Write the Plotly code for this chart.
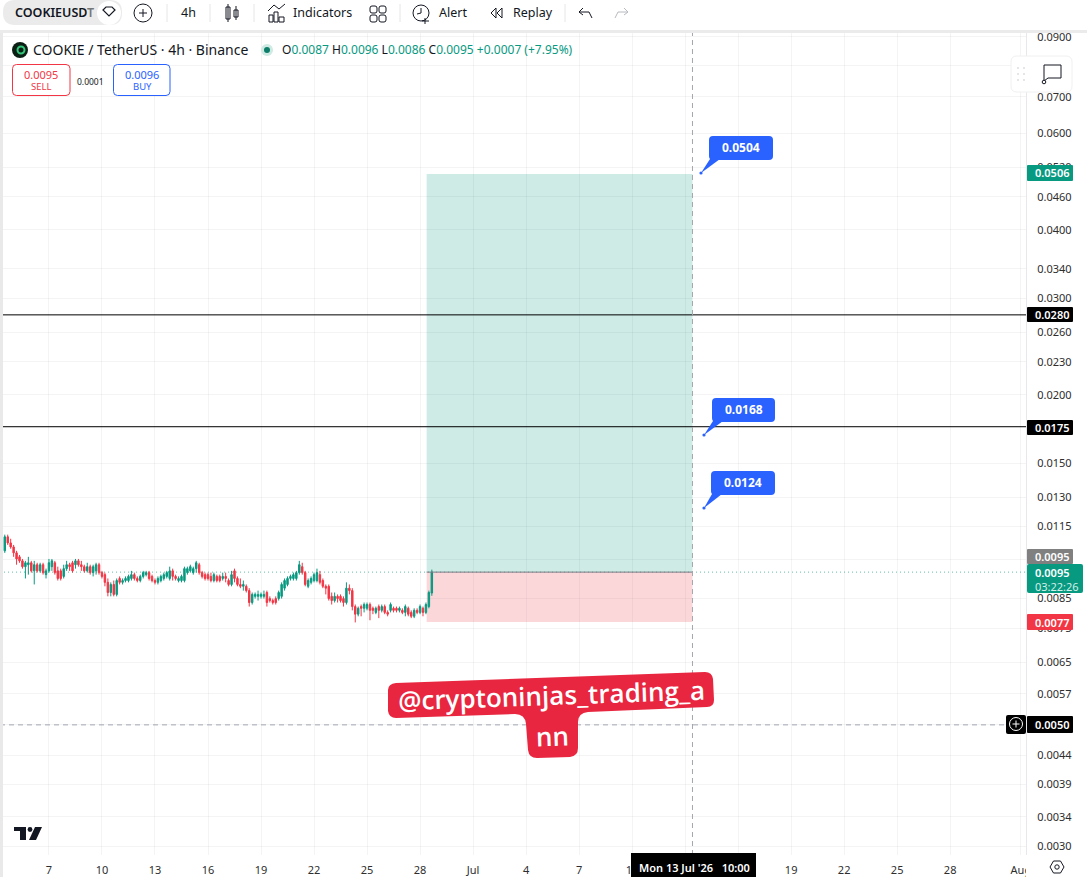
import pandas as pd
import plotly.graph_objects as go

W, H = 1087, 877
# 4h candles, prices in units of 0.00001 USDT
opens_e5 = [1039,1102,1074,1056,1030,1013,996,972,980,988,
 955,980,955,980,940,955,972,988,955,955,
 933,964,980,988,980,996,980,972,955,972,
 948,955,980,948,940,910,872,902,865,925,
 910,917,917,925,940,925,917,933,940,948,
 933,917,910,917,925,933,925,955,933,917,
 917,917,948,955,948,964,980,948,940,940,
 933,917,933,933,925,933,917,902,955,925,
 902,895,895,879,836,858,858,858,858,872,
 850,843,850,850,858,888,902,925,925,925,
 948,972,948,895,910,917,917,940,917,895,
 895,858,843,858,858,850,836,888,879,822,
 796,822,816,816,829,816,802,822,809,822,
 802,809,816,816,809,809,802,816,802,789,
 809,802,816,802,822,870]
closes_e5 = [1102,1074,1056,1030,1004,996,972,988,988,955,
 980,955,980,948,955,988,996,948,925,925,
 964,980,972,955,996,980,972,955,972,948,
 972,980,948,933,910,872,902,865,917,910,
 917,925,933,940,925,917,933,948,948,925,
 917,910,925,933,940,948,955,933,925,925,
 933,964,964,972,964,988,948,933,925,925,
 917,940,917,917,933,925,902,940,925,902,
 895,902,879,836,865,865,865,865,865,836,
 843,836,836,872,902,917,925,933,940,948,
 980,948,902,917,925,940,948,910,895,888,
 850,843,858,850,843,836,888,879,822,796,
 816,816,829,829,809,809,816,809,822,802,
 796,829,809,809,816,802,822,796,789,809,
 802,822,802,829,872,950]
highs_e5 = [1112,1112,1093,1065,1039,1021,1004,996,1013,996,
 996,988,988,988,964,1004,1004,996,972,964,
 980,996,988,996,1004,1004,996,980,988,980,
 980,988,988,955,948,925,910,917,925,933,
 925,933,940,955,948,933,940,955,955,955,
 940,925,933,940,948,955,972,964,940,933,
 940,972,972,980,972,996,988,955,948,948,
 948,948,940,940,948,948,925,955,964,933,
 925,917,902,888,872,872,879,872,879,879,
 858,850,858,879,910,925,933,940,948,955,
 996,988,955,925,933,948,964,955,925,902,
 902,872,872,865,865,858,910,902,888,829,
 822,829,836,836,836,822,822,829,829,829,
 809,836,822,822,822,816,829,822,809,816,
 816,829,822,836,879,960]
lows_e5 = [1030,1065,1048,1013,980,988,964,925,940,948,
 902,948,948,940,925,948,955,940,917,917,
 925,955,955,948,964,972,955,948,948,940,
 933,940,940,925,895,858,858,858,858,902,
 902,910,910,917,917,910,910,925,933,917,
 910,902,902,910,917,925,917,917,917,910,
 910,910,940,948,940,948,940,925,917,917,
 910,910,910,910,917,910,895,895,910,895,
 888,879,872,822,829,850,843,850,850,822,
 836,829,829,843,850,879,895,917,917,917,
 940,940,895,888,902,910,910,902,888,865,
 843,829,836,836,836,822,829,865,809,769,
 789,789,802,809,776,796,796,783,802,796,
 789,802,802,802,802,796,789,789,783,783,
 796,796,789,796,816,860]

first_candle = "2026-06-04 12:00"
date_ticks = ["2026-06-07","2026-06-10","2026-06-13","2026-06-16","2026-06-19","2026-06-22","2026-06-25","2026-06-28",
              "2026-07-01","2026-07-04","2026-07-07","2026-07-10","2026-07-13","2026-07-16","2026-07-19","2026-07-22","2026-07-25","2026-07-28","2026-08-01"]
date_labels = ["7","10","13","16","19","22","25","28","Jul","4","7","10","","","19","22","25","28","Aug"]
price_ticks = [0.09,0.08,0.07,0.06,0.052,0.046,0.04,0.034,0.03,0.026,0.023,0.02,0.0175,0.015,0.013,0.0115,0.01,0.0085,0.0075,0.0065,0.0057,0.005,0.0044,0.0039,0.0034,0.003]
hidden_price_labels = [0.08,0.0175,0.01,0.005]
entry, target, stop = 0.0095, 0.0506, 0.0077
levels = [0.028, 0.0175]
cross_price = 0.0050
box_start, box_end = "2026-06-28 09:00", "2026-07-13 10:00"

GREEN, RED, BLUE = "#089981", "#f23645", "#2962ff"
FONT = "Noto Sans"
GRID = "rgba(42,46,57,0.05)"
PL, PT, PB = 1026, 33, 855

dates = pd.date_range(first_candle, periods=len(opens_e5), freq="4h")
fig = go.Figure(go.Candlestick(
    x=dates, open=[v/1e5 for v in opens_e5], high=[v/1e5 for v in highs_e5],
    low=[v/1e5 for v in lows_e5], close=[v/1e5 for v in closes_e5],
    increasing=dict(line=dict(color=GREEN, width=1), fillcolor=GREEN),
    decreasing=dict(line=dict(color=RED, width=1), fillcolor=RED),
    whiskerwidth=0, hoverinfo="skip", showlegend=False))

shapes, notes = [], []
X = lambda x: x / W
Y = lambda y: 1 - y / H

def rr_path(x0, y0, x1, y1, r):
    return (f"M{X(x0+r)},{Y(y0)} L{X(x1-r)},{Y(y0)} Q{X(x1)},{Y(y0)} {X(x1)},{Y(y0+r)} "
            f"L{X(x1)},{Y(y1-r)} Q{X(x1)},{Y(y1)} {X(x1-r)},{Y(y1)} L{X(x0+r)},{Y(y1)} "
            f"Q{X(x0)},{Y(y1)} {X(x0)},{Y(y1-r)} L{X(x0)},{Y(y0+r)} Q{X(x0)},{Y(y0)} {X(x0+r)},{Y(y0)} Z")

def rect(x0, y0, x1, y1, fill="rgba(0,0,0,0)", line=None, lw=1, r=0, layer="above"):
    shapes.append(dict(type="path", path=rr_path(x0, y0, x1, y1, r), xref="paper", yref="paper",
                       fillcolor=fill, line=dict(color=line or "rgba(0,0,0,0)", width=lw if line else 0), layer=layer))

def line(x0, y0, x1, y1, color="#131722", lw=1, dash="solid"):
    shapes.append(dict(type="line", x0=X(x0), y0=Y(y0), x1=X(x1), y1=Y(y1), xref="paper", yref="paper",
                       line=dict(color=color, width=lw, dash=dash), layer="above"))

def circle(cx, cy, r, fill="rgba(0,0,0,0)", color=None, lw=1):
    shapes.append(dict(type="circle", x0=X(cx-r), y0=Y(cy-r), x1=X(cx+r), y1=Y(cy+r), xref="paper", yref="paper",
                       fillcolor=fill, line=dict(color=color or "rgba(0,0,0,0)", width=lw if color else 0), layer="above"))

def poly(pts, fill="rgba(0,0,0,0)", color=None, lw=1, close=True):
    d = "M" + " L".join(f"{X(a)},{Y(b)}" for a, b in pts) + (" Z" if close else "")
    shapes.append(dict(type="path", path=d, xref="paper", yref="paper", fillcolor=fill,
                       line=dict(color=color or "rgba(0,0,0,0)", width=lw if color else 0), layer="above"))

def text(x, y, s, size=11, color="#131722", anchor="left", weight=None, family=FONT, angle=0):
    notes.append(dict(x=X(x), y=Y(y), xref="paper", yref="paper", text=s, showarrow=False, xanchor=anchor,
                      yanchor="middle", textangle=angle, borderpad=0,
                      font=dict(size=size, color=color, family=family, weight=weight)))

# position boxes and levels, on the axes' own scales
def data_rect(p0, p1, fill):
    shapes.append(dict(type="rect", xref="x", yref="y", x0=box_start, x1=box_end, y0=p0, y1=p1,
                       fillcolor=fill, line=dict(width=0), layer="below"))
data_rect(entry, target, "rgba(8,153,129,0.2)")
data_rect(stop, entry, "rgba(242,54,69,0.2)")
shapes.append(dict(type="line", xref="x", yref="y", x0=box_start, x1=box_end, y0=entry, y1=entry,
                   line=dict(color="#787b86", width=1), layer="above"))
for lv in levels:
    shapes.append(dict(type="line", xref="x domain", yref="y", x0=0, x1=1, y0=lv, y1=lv,
                       line=dict(color="#000000", width=1), layer="above"))
shapes.append(dict(type="line", xref="x domain", yref="y", x0=0, x1=1, y0=entry, y1=entry,
                   line=dict(color="rgba(8,153,129,0.65)", width=1, dash="1px,3px"), layer="below"))
shapes.append(dict(type="line", xref="x domain", yref="y", x0=0, x1=1, y0=cross_price, y1=cross_price,
                   line=dict(color="#a3a6af", width=1, dash="5px,4px"), layer="above"))
shapes.append(dict(type="line", xref="x", yref="y domain", x0=box_end, x1=box_end, y0=0, y1=1,
                   line=dict(color="#a3a6af", width=1, dash="5px,4px"), layer="above"))

# chrome
rect(0, 0, W, 30, "#ffffff")
rect(0, 30, W, 33, "#ebebeb")
rect(0, 33, 3, H, "#e9e9e9")
rect(PL, 855, W, H, "#ffffff")

# toolbar
rect(3, 0, 122, 25, "#ebebeb", r=12)
text(14, 12, "COOKIEUSD<span style='color:#777'>T</span>", 12.5, "#131722", weight=600)
circle(109, 13, 12, "#ffffff")
poly([(103,10),(106,7),(112,7),(115,10),(109,16)], color="#131722", lw=1.2)
circle(143, 13, 9, color="#131722", lw=1)
line(139, 13, 147, 13); line(143, 9, 143, 17)
text(188, 13, "4h", 12.5, anchor="center")
for sx in (167, 210, 254, 400, 565):
    line(sx, 4, sx, 22, "#e6e6e6")
rect(226, 7, 230, 19, line="#131722"); line(228, 4, 228, 22)
rect(234, 10, 238, 17, line="#131722"); line(236, 6, 236, 20)
rect(269, 15, 273, 22, line="#131722"); rect(274, 12, 278, 22, line="#131722"); rect(279, 17, 284, 22, line="#131722")
poly([(268,11),(274,5),(279,9),(285,4)], color="#131722", close=False)
text(292, 13, "Indicators", 12.5)
for gx, gy in ((370,6),(379,6),(370,15),(379,15)):
    rect(gx, gy, gx+7, gy+7, line="#131722", r=2)
circle(421, 13, 8, color="#131722")
line(421, 8, 421, 13); line(421, 13, 417, 14); line(425, 18, 425, 24); line(422, 21, 429, 21)
text(438, 13, "Alert", 12.5)
poly([(496,8),(491,13),(496,18)], color="#131722"); poly([(502,8),(497,13),(502,18)], color="#131722")
text(512, 13, "Replay", 12.5)
poly([(583,8),(579,12),(583,15)], color="#131722", close=False)
poly([(579,12),(589,12),(592,18)], color="#131722", close=False)
poly([(624,8),(628,12),(624,15)], color="#b8bac0", close=False)
poly([(628,12),(618,12),(615,18)], color="#b8bac0", close=False)

# legend
circle(20, 50, 8, "#0b1f14")
circle(21, 50, 3.5, color="#34c77b", lw=2)
text(32, 50, "COOKIE / TetherUS · 4h · Binance", 14)
circle(267, 50, 6, "#cfe9e3"); circle(267, 50, 3, "#0d7d69")
v = lambda s: f"<span style='color:{GREEN}'>{s}</span>"
text(281, 49, "O" + v("0.0087") + " H" + v("0.0096") + " L" + v("0.0086") + " C" + v("0.0095") + " " + v("+0.0007 (+7.95%)"), 12)
rect(12.5, 64.5, 70, 95.5, "#ffffff", RED, 1, r=4)
text(41, 74, "0.0095", 11, RED, "center"); text(41, 87, "SELL", 9.5, RED, "center")
text(90, 81, "0.0001", 8.5, "#131722", "center")
rect(113.5, 64.5, 170, 95.5, "#ffffff", BLUE, 1, r=4)
text(142, 74, "0.0096", 11, BLUE, "center"); text(142, 87, "BUY", 9.5, BLUE, "center")

# floating widget
rect(1011, 56, 1072, 92, "#ffffff", "#f0f0f0", 1, r=6)
for dx in (1018, 1024):
    for dy in (68, 74, 80):
        circle(dx, dy, 0.7, "#b8bac0")
poly([(1044,65),(1061,65),(1061,78),(1048,78),(1044,81)], color="#131722")
circle(1044, 82, 1.8, "#ffffff", "#131722")

# right scale tags
def tag(y0, y1, s, fill, x1=1073):
    rect(1027, y0, x1, y1, fill, r=1)
    text(1034, (y0+y1)/2, s, 11, "#ffffff", weight=600)
tag(165, 181, "0.0506", GREEN)
tag(307, 322, "0.0280", "#000000")
tag(420, 435, "0.0175", "#000000")
tag(549, 564, "0.0095", "#808080")
rect(1027, 564, 1083, 593, GREEN, r=2)
text(1034, 572, "0.0095", 11, "#ffffff", weight=600)
text(1034, 586, "03:22:26", 11, "#d5f0ea")
tag(614, 630, "0.0077", RED)
tag(716, 733, "0.0050", "#000000")
rect(1006, 715, 1026, 734, "#000000", r=2)
circle(1016, 724, 6.5, color="#ffffff"); line(1012.5, 724, 1019.5, 724, "#ffffff"); line(1016, 720.5, 1016, 727.5, "#ffffff")

# blue callouts
def callout(x0, y0, x1, y1, tipx, tipy, s):
    rect(x0, y0, x1, y1, BLUE, r=4)
    poly([(x0+1, y1-1), (x0+11, y1-1), (tipx, tipy)], BLUE)
    circle(tipx, tipy, 1.6, BLUE)
    text((x0+x1)/2, (y0+y1)/2 - 1, s, 12, "#ffffff", "center", weight=700)
callout(709, 136, 773, 160, 701, 173, "0.0504")
callout(712, 398, 775, 422, 704, 435, "0.0168")
callout(711, 471, 775, 495, 704, 508, "0.0124")

# watermark
WM = "#e8263f"
wm = (f"M{X(396)},{Y(683)} L{X(705)},{Y(672)} Q{X(712)},{Y(672)} {X(713)},{Y(679)} L{X(714)},{Y(700)} Q{X(714)},{Y(707)} {X(707)},{Y(707)} "
      f"L{X(588)},{Y(712)} Q{X(578)},{Y(713)} {X(578)},{Y(722)} L{X(578)},{Y(748)} Q{X(578)},{Y(756)} {X(570)},{Y(757)} "
      f"L{X(537)},{Y(758)} Q{X(529)},{Y(758)} {X(528)},{Y(750)} L{X(526)},{Y(724)} Q{X(525)},{Y(714)} {X(515)},{Y(714)} "
      f"L{X(396)},{Y(718)} Q{X(389)},{Y(718)} {X(388)},{Y(711)} L{X(388)},{Y(690)} Q{X(388)},{Y(684)} {X(396)},{Y(683)} Z")
shapes.append(dict(type="path", path=wm, xref="paper", yref="paper", fillcolor=WM, line=dict(width=0), layer="above"))
text(551, 695, "@cryptoninjas_trading_a", 26, "#ffffff", "center", weight=600, family="Open Sans", angle=-2)
text(552, 736, "nn", 26, "#ffffff", "center", weight=600, family="Open Sans", angle=-2)

# bottom
rect(631, 853, 756, H, "#000000")
text(638, 867, "Mon 13 Jul '26 &nbsp; 10:00", 11, "#ffffff", weight=600)
rect(14, 827, 26, 831, "#131722"); rect(20, 831, 26, 840, "#131722")
circle(30, 829.5, 2.4, "#131722")
poly([(35,827),(42,827),(36,840),(29,840)], "#131722")
poly([(1050,867),(1053.5,861),(1060.5,861),(1064,867),(1060.5,873),(1053.5,873)], color="#131722")
circle(1057, 867, 2.2, color="#131722")

fig.update_layout(
    width=W, height=H, margin=dict(l=0, r=0, t=0, b=0), paper_bgcolor="#ffffff", plot_bgcolor="#ffffff",
    showlegend=False, hovermode=False, shapes=shapes, annotations=notes,
    font=dict(family=FONT, size=11, color="#2e2e2e"),
    xaxis=dict(domain=[0, PL/W], type="date", range=["2026-06-04 05:30", "2026-08-01 07:00"], rangeslider=dict(visible=False),
               automargin=False,
               tickmode="array", tickvals=date_ticks, ticktext=date_labels, showgrid=True, gridcolor=GRID, gridwidth=1,
               ticks="outside", ticklen=5, tickcolor="rgba(0,0,0,0)", zeroline=False, showline=False, tickfont=dict(size=11, color="#2e2e2e")),
    yaxis=dict(domain=[1-PB/H, 1-PT/H], type="log", side="right", range=[-2.5385, -1.0385],
               automargin=False,
               tickmode="array", tickvals=price_ticks,
               ticktext=["" if p in hidden_price_labels else f"{p:.4f}" for p in price_ticks],
               showgrid=True, gridcolor=GRID, gridwidth=1, ticks="outside", ticklen=8, tickcolor="rgba(0,0,0,0)",
               showline=True, linecolor="#e8e8ea", linewidth=1, zeroline=False, tickfont=dict(size=11, color="#2e2e2e")),
)
fig.write_html("out.html", config=dict(displayModeBar=False),
               post_script="var g=document.getElementById('{plot_id}');g.style.position='fixed';g.style.left='0';g.style.top='0';document.body.style.margin='0';document.body.style.overflow='hidden';")
